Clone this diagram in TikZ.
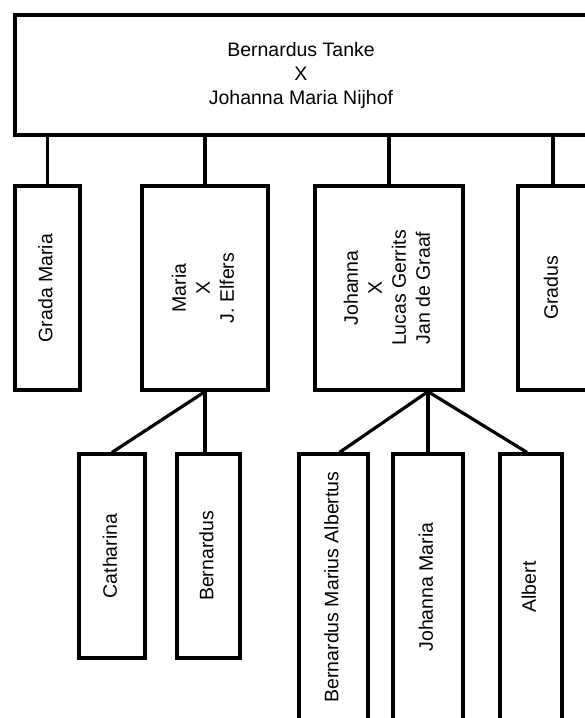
\documentclass[tikz,border=0pt]{standalone}
\usepackage{fontspec}
\setmainfont{Liberation Sans}
\usetikzlibrary{positioning}
\tikzset{
    box/.style={rectangle, draw=black, line width=3.2pt, fill=white, inner sep=0pt, font=\fontsize{19.5}{24}\selectfont},
    parents box/.style={box, minimum width=572pt, minimum height=120pt, align=center},
    child box/.style={box, minimum height=204pt},
    grandchild box/.style={box, minimum height=266pt},
    link/.style={line width=3.2pt, black}
}
\newcommand{\vtext}[1]{\rotatebox{90}{\begin{tabular}{@{}c@{}}#1\end{tabular}}}

\begin{document}
\begin{tikzpicture}[x=1pt, y=-1pt]
    \useasboundingbox (0,0) rectangle (585,718);
    \clip (0,0) rectangle (585,718);

    % Parents
    \node[parents box] (top) at (301,75) {Bernardus Tanke\\X\\Johanna Maria Nijhof};

    % Children
    \node[child box, minimum width=65pt] (grada) at (47.5,288) {\vtext{Grada Maria}};
    \node[child box, minimum width=126pt] (maria) at (205,288) {\vtext{Maria\\X\\J. Elfers}};
    \node[child box, minimum width=148pt] (johanna) at (389,288) {\vtext{Johanna\\X\\Lucas Gerrits\\Jan de Graaf}};
    \node[child box, minimum width=70pt] (gradus) at (553,288) {\vtext{Gradus}};

    % Grandchildren of Maria
    \node[child box, minimum width=66pt] (catharina) at (112,556) {\vtext{Catharina}};
    \node[child box, minimum width=63pt] (bernardus) at (208.5,556) {\vtext{Bernardus}};

    % Grandchildren of Johanna
    \node[grandchild box, minimum width=69pt] (bma) at (333.5,587) {\vtext{Bernardus Marius Albertus}};
    \node[grandchild box, minimum width=70pt] (jm) at (428,587) {\vtext{Johanna Maria}};
    \node[grandchild box, minimum width=62pt] (albert) at (531,587) {\vtext{Albert}};

    % Links parents to children
    \foreach \k in {grada,maria,johanna,gradus} {
        \draw[link] (\k.north |- top.south) -- (\k.north);
    }

    % Links Maria
    \draw[link] (maria.south) -- (catharina.north);
    \draw[link] (maria.south) -- (maria.south |- bernardus.north);

    % Links Johanna
    \coordinate (fork) at (jm.north |- johanna.south);
    \draw[link] (fork) -- ([xshift=6pt]bma.north);
    \draw[link] (fork) -- (jm.north);
    \draw[link] (fork) -- ([xshift=-4pt]albert.north);
\end{tikzpicture}
\end{document}
